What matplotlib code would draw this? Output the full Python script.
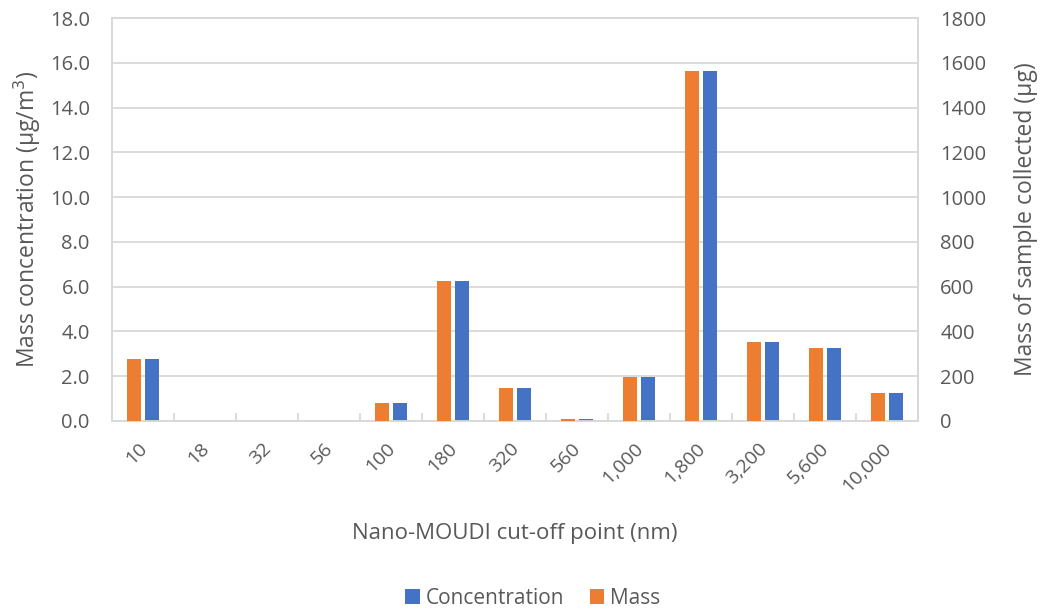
import matplotlib
matplotlib.use("Agg")
import matplotlib.pyplot as plt
import matplotlib.transforms as mtransforms
import numpy as np

plt.rcParams['font.family'] = ['Open Sans', 'DejaVu Sans']

cutoffs = ["10", "18", "32", "56", "100", "180", "320", "560",
           "1,000", "1,800", "3,200", "5,600", "10,000"]
concentration = [2.77, 0.0, 0.0, 0.0, 0.80, 6.24, 1.46, 0.09,
                 1.98, 15.63, 3.54, 3.26, 1.26]
mass = [277, 0, 0, 0, 80, 624, 146, 9, 198, 1563, 354, 326, 126]

blue = "#4472C4"
orange = "#ED7D31"
grid_c = "#D9D9D9"
text_c = "#595959"

fig = plt.figure(figsize=(10.43, 6.12), dpi=100)
ax = fig.add_axes([112/1043, 191/612, 806/1043, 403/612])
ax2 = ax.twinx()

x = np.arange(len(cutoffs))
w = 0.23
gap = 0.025
ax.bar(x + w/2 + gap, concentration, width=w, color=blue, label="Concentration", zorder=3)
ax2.bar(x - w/2 - gap, mass, width=w, color=orange, label="Mass", zorder=3)

ax.set_xlim(-0.5, len(cutoffs) - 0.5)
ax.set_ylim(0, 18)
ax2.set_ylim(0, 1800)
ax.set_yticks(np.arange(0, 18.1, 2))
ax.set_yticklabels([f"{v:.1f}" for v in np.arange(0, 18.1, 2)])
ax2.set_yticks(np.arange(0, 1801, 200))

ax.yaxis.grid(True, color=grid_c, linewidth=1.3, zorder=0)
ax.set_axisbelow(True)

for a in (ax, ax2):
    for s in a.spines.values():
        s.set_color(grid_c)
        s.set_linewidth(1.3)
    a.tick_params(axis='y', length=0, labelsize=14.5, colors=text_c, pad=16)

ax.set_xticks(x)
ax.set_xticklabels(cutoffs, rotation=45, ha='right', va='top',
                   rotation_mode='anchor', fontsize=14, color=text_c)
ax.tick_params(axis='x', length=0, pad=13)
shift = mtransforms.ScaledTranslation(-5/100, 0, fig.dpi_scale_trans)
for lbl in ax.get_xticklabels():
    lbl.set_transform(lbl.get_transform() + shift)
ax.set_xticks(np.arange(-0.5, len(cutoffs), 1), minor=True)
ax.tick_params(axis='x', which='minor', direction='in', length=6,
               color=grid_c, width=1.3)

ax.set_ylabel("Mass concentration (μg/m$^3$)", fontsize=16.5, color=text_c, labelpad=5)
ax2.set_ylabel("Mass of sample collected (μg)", fontsize=16.5, color=text_c, labelpad=20)
ax.set_xlabel("Nano-MOUDI cut-off point (nm)", fontsize=16, color=text_c, labelpad=20)

h1, l1 = ax.get_legend_handles_labels()
h2, l2 = ax2.get_legend_handles_labels()
fig.legend(h1 + h2, l1 + l2, loc='center', bbox_to_anchor=(533/1043, 1 - 598/612),
           ncol=2, frameon=False, fontsize=15, labelcolor=text_c,
           handlelength=0.7, handleheight=0.7, handletextpad=0.3, columnspacing=1.2)

fig.savefig("out.png", dpi=100)
